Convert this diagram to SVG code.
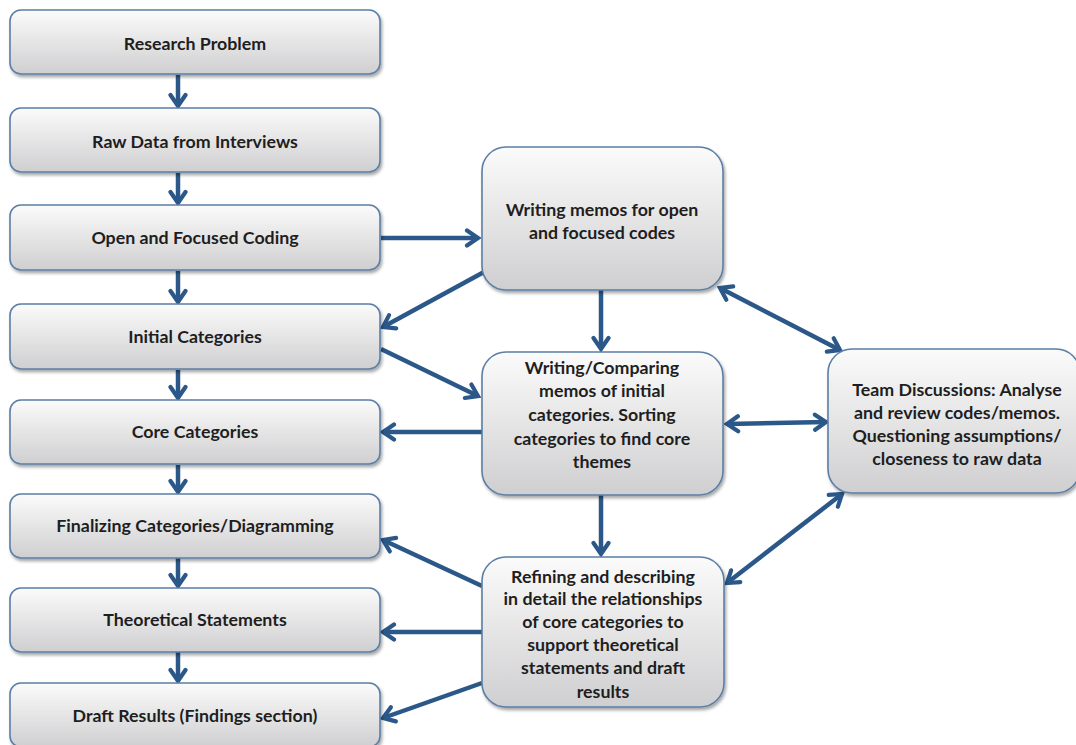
<svg xmlns="http://www.w3.org/2000/svg" width="1076" height="745" viewBox="0 0 1076 745">
<defs>
<linearGradient id="g" x1="0" y1="0" x2="0" y2="1">
<stop offset="0" stop-color="#fbfbfb"/>
<stop offset="1" stop-color="#cfcfd1"/>
</linearGradient>
<filter id="sh" x="-10%" y="-10%" width="125%" height="130%">
<feDropShadow dx="1.5" dy="2.5" stdDeviation="1.8" flood-color="#000" flood-opacity="0.35"/>
</filter>
<marker id="ah" viewBox="0 0 20 20" refX="17" refY="10" markerWidth="20" markerHeight="20" markerUnits="userSpaceOnUse" orient="auto-start-reverse">
<path d="M6,2.5 L17,10 L6,17.5" fill="none" stroke="#2b5889" stroke-width="4.2" stroke-linecap="round"/>
</marker>
</defs>
<style>
.b{fill:url(#g);stroke:#5b7fa5;stroke-width:1.6;filter:url(#sh)}
.t{font-family:Lato,"Open Sans","Liberation Sans",sans-serif;font-weight:bold;font-size:17.8px;fill:#1e1e1e;text-anchor:middle}
.c line{stroke:#2b5889;stroke-width:4.5;fill:none}
.f{marker-end:url(#ah)}
.d{marker-start:url(#ah);marker-end:url(#ah)}
</style>
<g id="connectors" class="c">
<line class="f" x1="178" y1="75" x2="178" y2="106"/>
<line class="f" x1="178" y1="173" x2="178" y2="203"/>
<line class="f" x1="178" y1="271" x2="178" y2="302"/>
<line class="f" x1="178" y1="370" x2="178" y2="398"/>
<line class="f" x1="178" y1="465" x2="178" y2="492"/>
<line class="f" x1="178" y1="558" x2="178" y2="586"/>
<line class="f" x1="178" y1="652" x2="178" y2="681"/>
<line class="f" x1="381" y1="238" x2="478" y2="238"/>
<line class="f" x1="484" y1="272" x2="383" y2="327"/>
<line class="f" x1="381" y1="349" x2="478" y2="396"/>
<line class="f" x1="601" y1="290" x2="601" y2="349"/>
<line class="f" x1="482" y1="432" x2="383" y2="432"/>
<line class="d" x1="727" y1="424" x2="826" y2="422"/>
<line class="d" x1="720" y1="288" x2="840" y2="350"/>
<line class="d" x1="842" y1="494" x2="727" y2="583"/>
<line class="f" x1="601" y1="495" x2="601" y2="554"/>
<line class="f" x1="482" y1="586" x2="383" y2="540"/>
<line class="f" x1="482" y1="632" x2="383" y2="632"/>
<line class="f" x1="482" y1="683" x2="383" y2="718"/>
</g>
<g id="n1"><rect class="b" x="10" y="10" width="370" height="64" rx="11"/><text class="t" x="195" y="50">Research Problem</text></g>
<g id="n2"><rect class="b" x="10" y="108" width="370" height="64" rx="11"/><text class="t" x="195" y="148">Raw Data from Interviews</text></g>
<g id="n3"><rect class="b" x="10" y="205" width="370" height="65" rx="11"/><text class="t" x="195" y="244">Open and Focused Coding</text></g>
<g id="n4"><rect class="b" x="10" y="304" width="370" height="65" rx="11"/><text class="t" x="195" y="343">Initial Categories</text></g>
<g id="n5"><rect class="b" x="10" y="400" width="370" height="64" rx="11"/><text class="t" x="195" y="438">Core Categories</text></g>
<g id="n6"><rect class="b" x="10" y="494" width="370" height="64" rx="11"/><text class="t" x="195" y="532">Finalizing Categories/Diagramming</text></g>
<g id="n7"><rect class="b" x="10" y="588" width="370" height="64" rx="11"/><text class="t" x="195" y="626">Theoretical Statements</text></g>
<g id="n8"><rect class="b" x="10" y="683" width="370" height="64" rx="11"/><text class="t" x="195" y="722">Draft Results (Findings section)</text></g>
<g id="m1"><rect class="b" x="482" y="147" width="241" height="143" rx="24"/><text class="t" x="602" y="216">Writing memos for open</text><text class="t" x="602" y="239">and focused codes</text></g>
<g id="m2"><rect class="b" x="482" y="352" width="241" height="143" rx="24"/><text class="t" x="602" y="374">Writing/Comparing</text><text class="t" x="602" y="397">memos of initial</text><text class="t" x="602" y="421">categories. Sorting</text><text class="t" x="602" y="445">categories to find core</text><text class="t" x="602" y="468">themes</text></g>
<g id="m3"><rect class="b" x="482" y="557" width="242" height="150" rx="24"/><text class="t" x="603" y="583">Refining and describing</text><text class="t" x="603" y="605">in detail the relationships</text><text class="t" x="603" y="628">of core categories to</text><text class="t" x="603" y="651">support theoretical</text><text class="t" x="603" y="674">statements and draft</text><text class="t" x="603" y="698">results</text></g>
<g id="team"><rect class="b" x="828" y="349" width="252" height="144" rx="24"/><text class="t" x="957" y="396">Team Discussions: Analyse</text><text class="t" x="957" y="419">and review codes/memos.</text><text class="t" x="957" y="442">Questioning assumptions/</text><text class="t" x="957" y="465">closeness to raw data</text></g>
</svg>
